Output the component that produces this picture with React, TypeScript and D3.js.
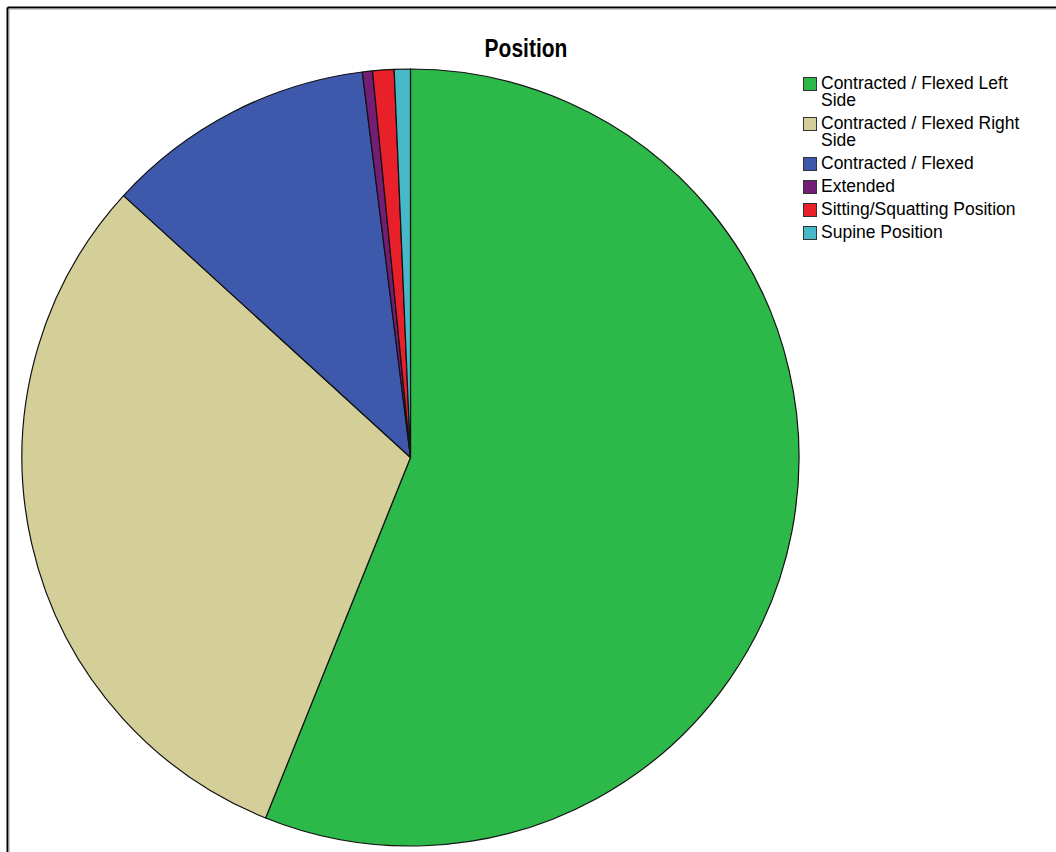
import { useMemo } from "react"
import { pie, arc, type PieArcDatum } from "d3"

const W = 1056, H = 852
const CX = 410.5, CY = 457.5, R = 388.5

// categories in legend/pie order, wrapped the way the legend shows them
const categories = [
  ["Contracted / Flexed Left", "Side"],
  ["Contracted / Flexed Right", "Side"],
  ["Contracted / Flexed"],
  ["Extended"],
  ["Sitting/Squatting Position"],
  ["Supine Position"],
]
// percent of cases
const shares = [56.1, 30.7, 11.25, 0.42, 0.89, 0.67]
const colors = ["#2db84a", "#d4cf98", "#3e58ac", "#741d74", "#e8202a", "#47b8c8"]

interface Slice { label: string[]; value: number; color: string }

const LINE = 17, ROW = 23

export default function App() {
  const slices: Slice[] = categories.map((label, i) => ({ label, value: shares[i], color: colors[i] }))

  const arcs = useMemo(() => pie<Slice>().sort(null).value(d => d.value)(slices), [])
  const arcGen = arc<PieArcDatum<Slice>>().innerRadius(0).outerRadius(R)

  // legend rows: wrapped labels push the next row down
  let y = 89
  const rows = slices.map(s => {
    const row = { s, y }
    y += ROW + (s.label.length - 1) * LINE
    return row
  })

  return (
    <svg width={W} height={H} style={{ position: "absolute", left: 0, top: 0, background: "#fff" }}
      fontFamily="'Liberation Sans', Arial, sans-serif">
      {/* frame, cut off at right and bottom */}
      <line x1={7.5} x2={W} y1={7.5} y2={7.5} stroke="#000" strokeWidth={2} />
      <line x1={7.5} x2={7.5} y1={7.5} y2={H} stroke="#000" strokeWidth={2} />
      <line x1={9} x2={W} y1={9} y2={9} stroke="#999" strokeWidth={1} />
      <line x1={9} x2={9} y1={9} y2={H} stroke="#999" strokeWidth={1} />

      {/* title glyphs are taller than Arial's proportions */}
      <g transform="translate(526,57) scale(1,1.22)">
        <text x={0} y={0} textAnchor="middle" fontSize={21} fontWeight="bold" fill="#000">Position</text>
      </g>

      <g transform={`translate(${CX},${CY})`}>
        {arcs.map((a, i) => (
          <path key={i} d={arcGen(a) ?? ""} fill={a.data.color} stroke="#111" strokeWidth={1.2} strokeLinejoin="round" />
        ))}
      </g>

      <g>
        {rows.map(({ s, y }, i) => (
          <g key={i}>
            <rect x={803.5} y={y - 11.5} width={13} height={13} fill={s.color} stroke="#333" strokeWidth={1} />
            <text x={821} y={y} fontSize={17.5} fill="#000">
              {s.label.map((l, j) => (
                <tspan key={j} x={821} y={y + j * LINE}>{l}</tspan>
              ))}
            </text>
          </g>
        ))}
      </g>
    </svg>
  )
}
